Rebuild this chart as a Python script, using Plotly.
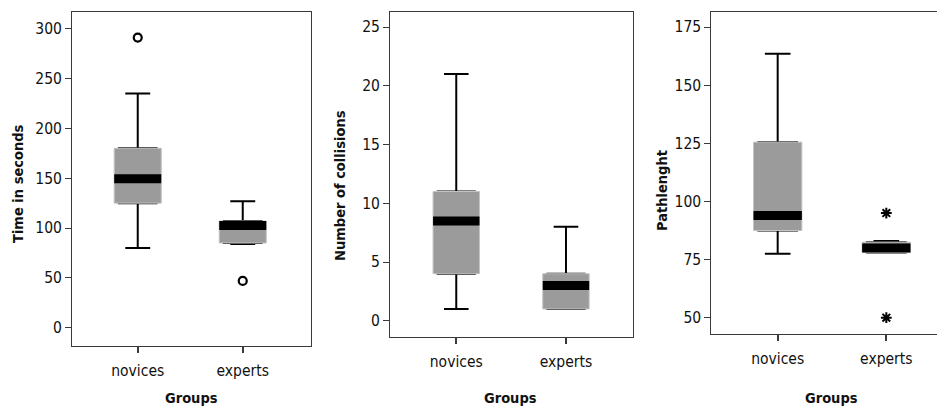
import plotly.graph_objects as go

# ---------------- data ----------------
groups = ["novices", "experts"]
group_pos = [0, 1]

time_q1 = [125, 85]
time_median = [149.5, 102.5]
time_q3 = [180, 107]
time_lower = [80, 84]
time_upper = [235, 127]
time_out_pos = [0, 1]
time_out_val = [291, 47]

coll_q1 = [4, 1]
coll_median = [8.5, 3]
coll_q3 = [11, 4]
coll_lower = [1, 1]
coll_upper = [21, 8]

path_q1 = [87.5, 78]
path_median = [94, 80]
path_q3 = [125.5, 82.5]
path_lower = [77.5, 78]
path_upper = [163.5, 83]
path_out_pos = [1, 1]
path_out_val = [95, 50]

time_ticks = [0, 50, 100, 150, 200, 250, 300]
coll_ticks = [0, 5, 10, 15, 20, 25]
path_ticks = [50, 75, 100, 125, 150, 175]

# ---------------- style ----------------
FONT = "DejaVu Sans Condensed, DejaVu Sans, sans-serif"
TXT = "#111111"
BOXFILL = "#9b9b9b"
BOXEDGE = "#c4c4c4"
FRAME = "#3a3a3a"
PAGE_W, PAGE_H = 945, 410
OFF = 8  # default body margin of the html page
W, H = PAGE_W - OFF, PAGE_H - OFF

fig = go.Figure()


def add_panel(n, q1, med, q3, lo, up, boxw, out_pos=None, out_val=None, out_symbol=None):
    xa = "x" if n == 1 else f"x{n}"
    ya = "y" if n == 1 else f"y{n}"
    # whiskers + caps (black)
    fig.add_trace(go.Box(
        x=group_pos, q1=q1, median=med, q3=q3, lowerfence=lo, upperfence=up,
        width=boxw * 0.8, whiskerwidth=0.53 / 0.8,
        fillcolor=BOXFILL, line=dict(color="black", width=2),
        boxpoints=False, hoverinfo="skip", showlegend=False,
        xaxis=xa, yaxis=ya))
    # gray box body with light edge
    fig.add_trace(go.Box(
        x=group_pos, q1=q1, median=med, q3=q3, lowerfence=q1, upperfence=q3,
        width=boxw, whiskerwidth=0,
        fillcolor=BOXFILL, line=dict(color=BOXEDGE, width=1),
        boxpoints=False, hoverinfo="skip", showlegend=False,
        xaxis=xa, yaxis=ya))
    # thick median band
    for p, m in zip(group_pos, med):
        fig.add_trace(go.Scatter(
            x=[p - boxw / 2, p + boxw / 2], y=[m, m], mode="lines",
            line=dict(color="black", width=9), hoverinfo="skip",
            showlegend=False, xaxis=xa, yaxis=ya))
    if out_pos is not None:
        if out_symbol == "circle-open":
            marker = dict(symbol="circle-open", size=8, color="black",
                          line=dict(color="black", width=2.2))
        else:
            marker = dict(symbol="asterisk-open", size=9, color="black",
                          line=dict(color="black", width=2))
        fig.add_trace(go.Scatter(
            x=out_pos, y=out_val, mode="markers", marker=marker,
            hoverinfo="skip", showlegend=False, xaxis=xa, yaxis=ya))


add_panel(1, time_q1, time_median, time_q3, time_lower, time_upper, 0.448,
          time_out_pos, time_out_val, "circle-open")
add_panel(2, coll_q1, coll_median, coll_q3, coll_lower, coll_upper, 0.423)
add_panel(3, path_q1, path_median, path_q3, path_lower, path_upper, 0.445,
          path_out_pos, path_out_val, "asterisk")


def px_x(a, b):
    return [max(0, (a - OFF) / W), min(1, (b - OFF) / W)]


def px_y(top, bottom):
    return [1 - (bottom - OFF) / H, 1 - (top - OFF) / H]


common_x = dict(
    tickmode="array", tickvals=group_pos, ticktext=groups,
    ticks="outside", ticklen=6, tickwidth=2, tickcolor=FRAME,
    showline=True, linecolor=FRAME, linewidth=1, mirror=True,
    showgrid=False, zeroline=False, fixedrange=True,
    ticklabelstandoff=4,
    tickfont=dict(family=FONT, size=15.5, color=TXT),
)
common_y = dict(
    ticks="outside", ticklen=6, tickwidth=1, tickcolor=FRAME,
    showline=True, linecolor=FRAME, linewidth=1, mirror=True,
    showgrid=False, zeroline=False, fixedrange=True,
    tickfont=dict(family=FONT, size=15.5, color=TXT),
)

fig.update_layout(
    width=W, height=H,
    margin=dict(l=0, r=0, t=0, b=0),
    paper_bgcolor="white", plot_bgcolor="white",
    boxmode="overlay",
    showlegend=False,
    xaxis=dict(common_x, domain=px_x(72, 311), range=[-0.626, 1.65], anchor="y"),
    yaxis=dict(common_y, domain=px_y(12, 346), range=[-18.3, 316.7],
               tickvals=time_ticks, anchor="x"),
    xaxis2=dict(common_x, domain=px_x(390, 633), range=[-0.604, 1.611], anchor="y2"),
    yaxis2=dict(common_y, domain=px_y(12, 337.3), range=[-1.41, 26.28],
                tickvals=coll_ticks, anchor="x2"),
    xaxis3=dict(common_x, domain=px_x(711.3, 945), range=[-0.611, 1.54], anchor="y3"),
    yaxis3=dict(common_y, domain=px_y(12, 334), range=[43.0, 181.45],
                tickvals=path_ticks, anchor="x3", mirror=False),
)

# axis titles as annotations (precise placement, page pixel coords)
title_font = dict(family=FONT, size=14.5, color=TXT)
annos = [
    ("Groups", 191, 398, 0),
    ("Groups", 510, 398, 0),
    ("Groups", 831, 398, 0),
    ("Time in seconds", 18, 184, -90),
    ("Number of collisions", 340, 186, -90),
    ("Pathlenght", 662, 191, -90),
]
for text, x, y, ang in annos:
    fig.add_annotation(
        text=f"<b>{text}</b>", x=(x - OFF) / W, y=1 - (y - OFF) / H,
        xref="paper", yref="paper",
        showarrow=False, textangle=ang, font=title_font,
        xanchor="center", yanchor="middle")

fig.write_html("out.html")
